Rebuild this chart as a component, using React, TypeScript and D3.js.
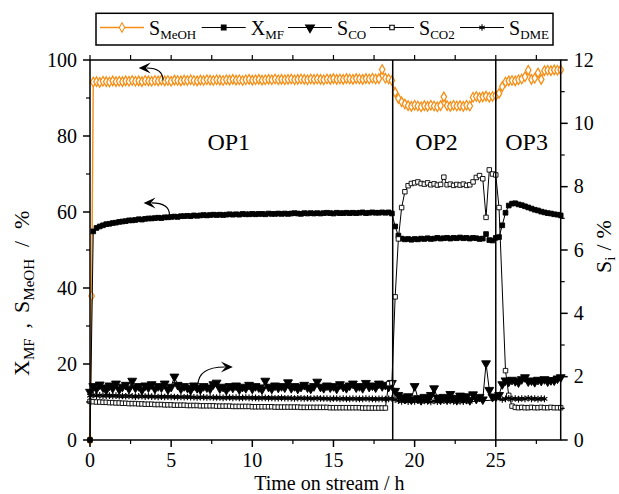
import React from 'react'
import * as d3 from 'd3'

// time on stream, h
const hours = [
  0, 0.1, 0.2, 0.4, 0.6, 0.8, 1, 1.2, 1.4, 1.6, 1.8,
  2, 2.2, 2.4, 2.6, 2.8, 3, 3.2, 3.4, 3.6, 3.8,
  4, 4.2, 4.4, 4.6, 4.8, 5, 5.2, 5.4, 5.6, 5.8,
  6, 6.2, 6.4, 6.6, 6.8, 7, 7.2, 7.4, 7.6, 7.8,
  8, 8.2, 8.4, 8.6, 8.8, 9, 9.2, 9.4, 9.6, 9.8,
  10, 10.2, 10.4, 10.6, 10.8, 11, 11.2, 11.4, 11.6, 11.8,
  12, 12.2, 12.4, 12.6, 12.8, 13, 13.2, 13.4, 13.6, 13.8,
  14, 14.2, 14.4, 14.6, 14.8, 15, 15.2, 15.4, 15.6, 15.8,
  16, 16.2, 16.4, 16.6, 16.8, 17, 17.2, 17.4, 17.6, 17.8,
  18, 18.2, 18.4, 18.6, 18.8, 19, 19.2, 19.4, 19.6, 19.8,
  20, 20.2, 20.4, 20.6, 20.8, 21, 21.2, 21.4, 21.6, 21.8,
  22, 22.2, 22.4, 22.6, 22.8, 23, 23.2, 23.4, 23.6, 23.8,
  24, 24.2, 24.4, 24.6, 24.8, 25, 25.2, 25.4, 25.6, 25.8,
  26, 26.2, 26.4, 26.6, 26.8, 27, 27.2, 27.4, 27.6, 27.8,
  28, 28.2, 28.4, 28.6, 28.8, 29
]

// left axis, %
const sMeOH = [
  0, 37.9, 94.2, 94.3, 94.1, 94.4, 94.3, 94.2, 94.5, 94.3, 94.4,
  94.3, 94.5, 94.4, 94.6, 94.4, 94.5, 94.3, 94.6, 94.5, 94.4,
  94.6, 94.5, 94.7, 94.5, 94.6, 94.4, 94.7, 94.6, 94.5, 94.7,
  94.6, 94.8, 94.6, 94.5, 94.7, 94.6, 94.8, 94.7, 94.6, 94.8,
  94.7, 94.6, 94.8, 94.7, 94.9, 94.7, 94.8, 94.6, 94.8, 94.9,
  94.7, 94.8, 94.9, 94.7, 94.8, 94.9, 94.8, 95.0, 94.8, 94.9,
  94.8, 94.9, 95.0, 94.8, 94.9, 95.0, 94.9, 94.8, 95.0, 94.9,
  95.0, 94.9, 94.8, 95.0, 94.9, 95.1, 94.9, 95.0, 94.9, 95.1,
  95.0, 94.9, 95.1, 95.0, 94.9, 95.1, 95.0, 95.2, 95.0, 95.1,
  97.5, 95.2, 95.0, 94.6, 91.5, 89.9, 89.0, 88.4, 88.0, 87.8,
  88.1, 87.9, 87.7, 88.0, 87.8, 88.1, 87.9, 87.7, 88.0, 90.3,
  88.0, 87.8, 88.1, 87.9, 88.0, 87.8, 88.1, 87.9, 90.2, 90.4,
  90.1, 90.3, 90.5, 90.2, 90.4, 90.6, 91.2, 93.0, 94.2, 94.5,
  94.6, 94.5, 94.8, 95.0, 95.6, 97.3, 94.9, 95.2, 96.6, 94.9,
  97.2, 97.3, 97.2, 97.4, 97.3, 97.4
]

const xMF = [
  0, null, 54.9, 55.8, 56.2, 56.5, 56.8, 56.9, 57.1, 57.2, 57.4,
  57.5, 57.6, 57.8, 57.8, 57.9, 58.1, 58.0, 58.2, 58.3, 58.3,
  58.4, 58.5, 58.4, 58.6, 58.6, 58.7, 58.8, 58.7, 58.9, 58.9,
  59.0, 58.9, 59.1, 59.0, 59.1, 59.2, 59.1, 59.2, 59.3, 59.2,
  59.3, 59.2, 59.3, 59.4, 59.3, 59.4, 59.3, 59.5, 59.4, 59.4,
  59.5, 59.4, 59.5, 59.5, 59.4, 59.6, 59.5, 59.5, 59.6, 59.5,
  59.6, 59.5, 59.6, 59.7, 59.6, 59.5, 59.7, 59.6, 59.7, 59.6,
  59.7, 59.6, 59.7, 59.8, 59.7, 59.6, 59.8, 59.7, 59.7, 59.8,
  59.7, 59.8, 59.7, 59.8, 59.9, 59.7, 59.8, 59.9, 59.8, 59.8,
  59.9, 59.8, 59.9, 59.6, 56.2, 53.8, 53.0, 52.8, 52.9, 52.7,
  52.9, 52.8, 53.0, 52.9, 53.1, 52.9, 53.0, 53.2, 53.0, 53.1,
  53.2, 53.0, 53.2, 53.1, 53.3, 53.1, 53.2, 53.0, 53.2, 53.1,
  52.9, 53.0, 54.2, 52.6, 52.5, 53.2, 53.4, 56.5, 59.8, 61.7,
  62.2, 62.3, 62.0, 61.8, 61.5, 61.2, 60.9, 60.6, 60.4, 60.1,
  59.9, 59.7, 59.6, 59.4, 59.3, 59.1
]

// right axis, %
const sCO = [
  1.52, null, 1.70, 1.62, 1.75, 1.66, 1.58, 1.72, 1.64, 1.78, 1.60,
  1.68, 1.74, 1.62, 1.87, 1.65, 1.70, 1.58, 1.72, 1.66, 1.76,
  1.62, 1.70, 1.66, 1.78, 1.60, 1.68, 2.00, 1.74, 1.62, 1.70,
  1.65, 1.58, 1.72, 1.64, 1.60, 1.70, 1.66, 1.62, 1.76, 1.81,
  1.63, 1.68, 1.58, 1.70, 1.65, 1.72, 1.60, 1.68, 1.64, 1.74,
  1.62, 1.70, 1.66, 1.60, 1.87, 1.68, 1.62, 1.72, 1.65, 1.70,
  1.66, 1.82, 1.64, 1.70, 1.62, 1.68, 1.74, 1.66, 1.62, 1.70,
  1.84, 1.68, 1.64, 1.72, 1.66, 1.70, 1.62, 1.76, 1.68, 1.64,
  1.72, 1.78, 1.66, 1.70, 1.64, 1.80, 1.68, 1.72, 1.66, 1.78,
  1.70, 1.74, 1.68, 1.80, 1.55, 1.42, 1.35, 1.30, 1.38, 1.28,
  1.70, 1.32, 1.26, 1.36, 1.30, 1.42, 1.63, 1.34, 1.28, 1.36,
  1.30, 1.45, 1.33, 1.27, 1.40, 1.32, 1.38, 1.26, 1.44, 1.30,
  1.36, 1.28, 2.42, 1.58, 1.36, 1.37, 1.42, 1.76, 1.88, 1.84,
  1.90, 1.86, 1.82, 1.92, 1.98, 1.85, 1.88, 1.83, 1.90, 1.87,
  1.92, 1.85, 1.89, 1.88, 1.94, 1.98
]

const sCO2 = [
  1.22, null, 1.21, 1.20, 1.20, 1.19, 1.19, 1.18, 1.18, 1.17, 1.17,
  1.16, 1.16, 1.15, 1.15, 1.15, 1.14, 1.14, 1.13, 1.13, 1.13,
  1.12, 1.12, 1.12, 1.11, 1.11, 1.11, 1.10, 1.10, 1.10, 1.10,
  1.09, 1.09, 1.09, 1.09, 1.08, 1.08, 1.08, 1.08, 1.08, 1.07,
  1.07, 1.07, 1.07, 1.07, 1.06, 1.06, 1.06, 1.06, 1.06, 1.06,
  1.05, 1.05, 1.05, 1.05, 1.05, 1.05, 1.05, 1.04, 1.04, 1.04,
  1.04, 1.04, 1.04, 1.04, 1.04, 1.03, 1.03, 1.03, 1.03, 1.03,
  1.03, 1.03, 1.03, 1.03, 1.02, 1.02, 1.02, 1.02, 1.02, 1.02,
  1.02, 1.02, 1.02, 1.02, 1.01, 1.01, 1.01, 1.01, 1.01, 1.01,
  1.01, 1.01, 1.78, 1.80, 4.52, 6.35, 7.34, 7.84, 8.03, 8.10,
  8.12, 8.15, 8.10, 8.08, 8.12, 8.06, 8.09, 8.05, 8.07, 8.30,
  8.06, 8.08, 8.04, 8.07, 8.05, 8.08, 8.04, 8.06, 8.15, 8.29,
  8.35, 8.25, 7.03, 8.53, 8.40, 8.37, 7.34, null, 2.19, 1.41,
  1.07, 1.03, 1.02, 1.03, 1.02, 1.02, 1.03, 1.02, 1.02, 1.03,
  1.02, 1.02, 1.03, 1.02, 1.02, 1.02
]

const sDME = [
  1.40, null, 1.42, 1.40, 1.41, 1.39, 1.40, 1.40, 1.39, 1.40, 1.38,
  1.39, 1.38, 1.39, 1.38, 1.37, 1.38, 1.38, 1.37, 1.38, 1.37,
  1.37, 1.36, 1.37, 1.36, 1.37, 1.36, 1.36, 1.35, 1.36, 1.35,
  1.36, 1.35, 1.35, 1.34, 1.35, 1.35, 1.34, 1.35, 1.34, 1.34,
  1.34, 1.33, 1.34, 1.34, 1.33, 1.34, 1.33, 1.33, 1.34, 1.33,
  1.33, 1.33, 1.32, 1.33, 1.33, 1.32, 1.33, 1.32, 1.32, 1.33,
  1.32, 1.32, 1.32, 1.31, 1.32, 1.32, 1.31, 1.32, 1.31, 1.31,
  1.32, 1.31, 1.31, 1.31, 1.30, 1.31, 1.31, 1.30, 1.31, 1.30,
  1.30, 1.31, 1.30, 1.30, 1.30, 1.31, 1.30, 1.30, 1.29, 1.30,
  1.30, 1.29, 1.30, 1.31, 1.28, 1.24, 1.22, 1.25, 1.21, 1.23,
  1.22, 1.24, 1.21, 1.23, 1.22, 1.20, 1.23, 1.21, 1.22, 1.24,
  1.21, 1.23, 1.22, 1.20, 1.22, 1.21, 1.23, 1.21, null, null,
  null, null, null, null, null, null, null, 1.28, 1.30, 1.32,
  1.30, 1.31, 1.29, 1.31, 1.30, 1.32, 1.30, 1.31, 1.29, 1.31,
  1.30, null, null, null, null, null
]

const opSwitches = [18.65, 25]
const opNames = ['OP1', 'OP2', 'OP3']
const opNameHours = [8.55, 21.35, 26.9]
const opNameLevel = 76.3

const xTicks = [0, 5, 10, 15, 20, 25]
const xMinor = [2.5, 7.5, 12.5, 17.5, 22.5, 27.5]
const leftTicks = [0, 20, 40, 60, 80, 100]
const leftMinor = [10, 30, 50, 70, 90]
const rightTicks = [0, 2, 4, 6, 8, 10, 12]
const rightMinor = [1, 3, 5, 7, 9, 11]

// curved annotation arrows: [hour, left-axis value]
const arrowTails = [[4.5, 94.6], [4.9, 59.2], [6.65, 14.4]]
const arrowHeads = [[3.0, 97.9], [3.3, 62.4], [8.8, 19.2]]

const W = 619
const H = 494
const M = { left: 90, right: 58.3, top: 60, bottom: 54 }
const ORANGE = '#f58f17'
const FONT = 'Liberation Serif, Times New Roman, DejaVu Serif, serif'

const asterisk = (d3 as any).symbolAsterisk || d3.symbolCross

const series = [
  { key: 'MeOH', main: 'S', sub: 'MeOH', values: sMeOH, axis: 'left', color: ORANGE, symbol: d3.symbolDiamond, size: 26, fill: '#fff', rotate: 0 },
  { key: 'MF', main: 'X', sub: 'MF', values: xMF, axis: 'left', color: '#000', symbol: d3.symbolSquare, size: 22, fill: '#000', rotate: 0 },
  { key: 'CO', main: 'S', sub: 'CO', values: sCO, axis: 'right', color: '#000', symbol: d3.symbolTriangle, size: 34, fill: '#000', rotate: 180 },
  { key: 'CO2', main: 'S', sub: 'CO2', values: sCO2, axis: 'right', color: '#000', symbol: d3.symbolSquare, size: 20, fill: '#fff', rotate: 0 },
  { key: 'DME', main: 'S', sub: 'DME', values: sDME, axis: 'right', color: '#000', symbol: asterisk, size: 30, fill: 'none', rotate: 0 },
]
const legendX = [100, 201.7, 288, 370, 460]

function arrowHead(hx: number, hy: number, cx: number, cy: number) {
  const dx = hx - cx
  const dy = hy - cy
  const len = Math.sqrt(dx * dx + dy * dy) || 1
  const ux = dx / len
  const uy = dy / len
  const nx = -uy
  const ny = ux
  const L = 12
  const Wd = 5.5
  const bx = hx - ux * L
  const by = hy - uy * L
  const kx = hx - ux * L * 0.6
  const ky = hy - uy * L * 0.6
  return `M${hx},${hy}L${bx + nx * Wd},${by + ny * Wd}L${kx},${ky}L${bx - nx * Wd},${by - ny * Wd}Z`
}

export default function App() {
  const x = d3.scaleLinear().domain([0, 29]).range([M.left, W - M.right])
  const yL = d3.scaleLinear().domain([0, 100]).range([H - M.bottom, M.top])
  const yR = d3.scaleLinear().domain([0, 12]).range([H - M.bottom, M.top])
  const top = M.top
  const bottom = H - M.bottom
  const left = M.left
  const right = W - M.right

  const renderSeries = (s: any) => {
    const y = s.axis === 'left' ? yL : yR
    const pts = hours
      .map((h, i) => [h, s.values[i]] as [number, number | null])
      .filter((p) => p[1] !== null) as [number, number][]
    const line = d3.line<[number, number]>().x((d) => x(d[0])).y((d) => y(d[1]))
    const sym = d3.symbol().type(s.symbol).size(s.size)()
    return (
      <g key={s.key}>
        <path d={line(pts) || ''} fill="none" stroke={s.color} strokeWidth={s.key === 'MeOH' ? 1.4 : 1} />
        {pts.map((p, i) => (
          <path
            key={i}
            d={sym || ''}
            transform={`translate(${x(p[0])},${y(p[1])}) rotate(${s.rotate})`}
            fill={s.fill}
            stroke={s.color}
            strokeWidth={s.key === 'DME' ? 1.1 : s.key === 'MeOH' ? 1.3 : 0.9}
          />
        ))}
      </g>
    )
  }

  return (
    <svg width={W} height={H} style={{ position: 'absolute', left: 0, top: 0, background: '#fff', fontFamily: FONT }}>
      {/* legend */}
      <rect x={96} y={13.3} width={457} height={31.7} fill="#fff" stroke="#000" strokeWidth={1.5} />
      {series.map((s, i) => {
        const lx = legendX[i]
        const sym = d3.symbol().type(s.symbol).size(s.size)()
        return (
          <g key={'lg' + s.key}>
            <line x1={lx} x2={lx + 44} y1={27.5} y2={27.5} stroke={s.color} strokeWidth={s.key === 'MeOH' ? 1.4 : 1} />
            <path d={sym || ''} transform={`translate(${lx + 22},27.5) rotate(${s.rotate})`} fill={s.fill} stroke={s.color} strokeWidth={1.1} />
            <text x={lx + 49} y={35} fontSize={20}>
              {s.main}
              <tspan fontSize={13} dy={4}>{s.sub}</tspan>
            </text>
          </g>
        )
      })}

      {/* series */}
      {series.map(renderSeries)}

      {/* operating point borders */}
      {opSwitches.map((h) => (
        <line key={'op' + h} x1={x(h)} x2={x(h)} y1={top} y2={bottom} stroke="#000" strokeWidth={1.5} />
      ))}
      {opNames.map((n, i) => (
        <text key={n} x={x(opNameHours[i])} y={yL(opNameLevel)} fontSize={24} textAnchor="middle">{n}</text>
      ))}

      {/* arrows */}
      {arrowTails.map((t, i) => {
        const tx = x(t[0])
        const ty = yL(t[1])
        const hx = x(arrowHeads[i][0])
        const hy = yL(arrowHeads[i][1])
        const cx = tx
        const cy = hy
        const L = 8
        const d = Math.hypot(hx - cx, hy - cy) || 1
        const ex = hx - ((hx - cx) / d) * L
        const ey = hy - ((hy - cy) / d) * L
        return (
          <g key={'ar' + i}>
            <path d={`M${tx},${ty}Q${cx},${cy} ${ex},${ey}`} fill="none" stroke="#000" strokeWidth={1.1} />
            <path d={arrowHead(hx, hy, cx, cy)} fill="#000" />
          </g>
        )
      })}

      {/* frame */}
      <rect x={left} y={top} width={right - left} height={bottom - top} fill="none" stroke="#000" strokeWidth={1.5} />

      {/* bottom + top ticks */}
      {xTicks.map((t) => (
        <g key={'xt' + t}>
          <line x1={x(t)} x2={x(t)} y1={bottom} y2={bottom + 7} stroke="#000" strokeWidth={1.5} />
          <line x1={x(t)} x2={x(t)} y1={top} y2={top - 5} stroke="#000" strokeWidth={1.2} />
          <text x={x(t)} y={467} fontSize={20} textAnchor="middle">{t}</text>
        </g>
      ))}
      {xMinor.map((t) => (
        <g key={'xm' + t}>
          <line x1={x(t)} x2={x(t)} y1={bottom} y2={bottom + 4} stroke="#000" strokeWidth={1.2} />
          <line x1={x(t)} x2={x(t)} y1={top} y2={top - 5} stroke="#000" strokeWidth={1.2} />
        </g>
      ))}
      <text x={(left + right) / 2 + 4} y={490} fontSize={20} textAnchor="middle">Time on stream / h</text>

      {/* left axis */}
      {leftTicks.map((t) => (
        <g key={'lt' + t}>
          <line x1={left} x2={left - 7} y1={yL(t)} y2={yL(t)} stroke="#000" strokeWidth={1.5} />
          <text x={left - 13} y={yL(t)} dy="0.34em" fontSize={20} textAnchor="end">{t}</text>
        </g>
      ))}
      {leftMinor.map((t) => (
        <line key={'lm' + t} x1={left} x2={left - 4} y1={yL(t)} y2={yL(t)} stroke="#000" strokeWidth={1.2} />
      ))}
      <text transform={`translate(29,376) rotate(-90)`} fontSize={22}>
        X<tspan fontSize={15} dy={5}>MF</tspan>
        <tspan dy={-5} dx={10}>,</tspan>
        <tspan dx={10}>S</tspan>
        <tspan fontSize={15} dy={5}>MeOH</tspan>
        <tspan dy={-5} dx={12}>/</tspan>
        <tspan dx={12}>%</tspan>
      </text>

      {/* right axis */}
      {rightTicks.map((t) => (
        <g key={'rt' + t}>
          <line x1={right} x2={right + 7} y1={yR(t)} y2={yR(t)} stroke="#000" strokeWidth={1.5} />
          <text x={right + 13} y={yR(t)} dy="0.34em" fontSize={20} textAnchor="start">{t}</text>
        </g>
      ))}
      {rightMinor.map((t) => (
        <line key={'rm' + t} x1={right} x2={right + 4} y1={yR(t)} y2={yR(t)} stroke="#000" strokeWidth={1.2} />
      ))}
      <text transform={`translate(611,273) rotate(-90)`} fontSize={22}>
        S<tspan fontSize={15} dy={4}>i</tspan>
        <tspan dy={-4} dx={6}>/</tspan>
        <tspan dx={6}>%</tspan>
      </text>
    </svg>
  )
}
